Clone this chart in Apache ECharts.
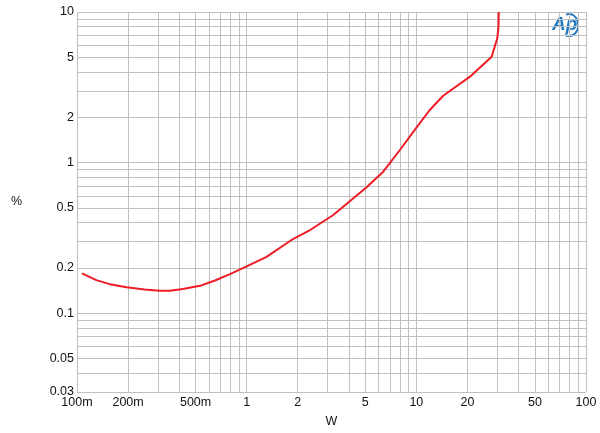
<!DOCTYPE html>
<html>
<head>
<meta charset="utf-8">
<script src="https://cdn.jsdelivr.net/npm/echarts@6/dist/echarts.min.js"></script>
<style>html,body{margin:0;padding:0;background:#fff}#c{width:600px;height:433px}</style>
</head>
<body>
<div id="c"></div>
<script>
// Data
var power = [0.107, 0.13, 0.156, 0.196, 0.25, 0.308, 0.353, 0.42, 0.531, 0.65, 0.797, 1.0, 1.31, 1.875, 2.33, 3.24, 5.09, 6.38, 8.0, 10.04, 12.0, 14.4, 20.7, 27.8, 30.0, 30.5, 30.6];
var thd   = [0.184, 0.166, 0.156, 0.1486, 0.144, 0.141, 0.141, 0.145, 0.152, 0.165, 0.182, 0.205, 0.237, 0.311, 0.353, 0.449, 0.686, 0.871, 1.213, 1.715, 2.235, 2.78, 3.72, 5.05, 6.69, 8.0, 10];

var xGrid = [0.1,0.2,0.3,0.4,0.5,0.6,0.7,0.8,0.9,1,2,3,4,5,6,7,8,9,10,20,30,40,50,60,70,80,90,100];
var xTickValues = [0.1,0.2,0.5,1,2,5,10,20,50,100];
var xTickLabels = ['100m','200m','500m','1','2','5','10','20','50','100'];
var yGrid = [0.03,0.04,0.05,0.06,0.07,0.08,0.09,0.1,0.2,0.3,0.4,0.5,0.6,0.7,0.8,0.9,1,2,3,4,5,6,7,8,9,10];
var yTickValues = [0.03,0.05,0.1,0.2,0.5,1,2,5,10];
var yTickLabels = ['0.03','0.05','0.1','0.2','0.5','1','2','5','10'];

var FONT = 'Liberation Sans, Arial, sans-serif';
function labelFor(v, vals, labs){
  for (var i=0;i<vals.length;i++){ if (Math.abs(vals[i]-v) < 1e-9) return labs[i]; }
  return null;
}
var gridLineStyle = {color:'#c0c0c0', width:1, type:'solid'};
var xLines = xGrid.map(function(v){
  var t = labelFor(v, xTickValues, xTickLabels);
  return {xAxis: v, lineStyle: gridLineStyle,
    label: t ? {show:true, position:'start', distance:4, formatter:t, color:'#111', fontSize:12.5, fontFamily:FONT} : {show:false}};
});
var yLines = yGrid.map(function(v){
  var t = labelFor(v, yTickValues, yTickLabels);
  return {yAxis: v, lineStyle: gridLineStyle,
    label: t ? {show:true, position:'start', distance:3, formatter:t, color:'#111', fontSize:12.5, fontFamily:FONT} : {show:false}};
});

var chart = echarts.init(document.getElementById('c'), null, {renderer:'canvas'});
chart.setOption({
  animation:false,
  backgroundColor:'#fff',
  grid:{left:77, right:14, top:12, bottom:41, containLabel:false},
  xAxis:{type:'log', logBase:10, min:0.1, max:100,
    name:'W', nameLocation:'middle', nameGap:23,
    nameTextStyle:{color:'#111', fontSize:12.5, fontFamily:FONT},
    axisLine:{show:false}, axisTick:{show:false}, axisLabel:{show:false}, splitLine:{show:false}},
  yAxis:{type:'log', logBase:10, min:0.03, max:10,
    name:'%', nameLocation:'middle', nameGap:55, nameRotate:0,
    nameTextStyle:{color:'#111', fontSize:12.5, fontFamily:FONT},
    axisLine:{show:false}, axisTick:{show:false}, axisLabel:{show:false}, splitLine:{show:false}},
  series:[
    {type:'line', data:[], silent:true, z:1,
     markLine:{silent:true, symbol:['none','none'], animation:false, data: xLines.concat(yLines)}},
    {type:'line', z:5, data: power.map(function(p,i){return [p, thd[i]];}),
     showSymbol:false, symbol:'none', smooth:false, clip:true,
     lineStyle:{color:'#ee1c24', width:2}}
  ],
  graphic:[
    {type:'arc', x:569, y:25, scaleX:0.85, shape:{cx:0, cy:0, r:11, startAngle:-Math.PI*0.6, endAngle:Math.PI*0.65}, style:{stroke:'#1f78c1', lineWidth:2, fill:null}, silent:true},
    {type:'text', x:552, y:15, style:{text:'Ap', font:'italic bold 19px Liberation Sans, Arial, sans-serif', fill:'#1f78c1'}, silent:true}
  ]
});
</script>
</body>
</html>
